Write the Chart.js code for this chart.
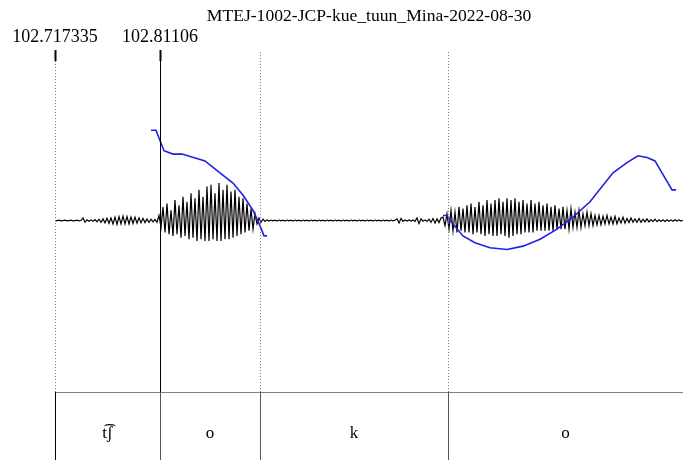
<!DOCTYPE html>
<html>
<head>
<meta charset="utf-8">
<script src="https://cdn.jsdelivr.net/npm/chart.js@4.4.1/dist/chart.umd.min.js"></script>
<style>
  html, body { margin: 0; padding: 0; background: #fff; overflow: hidden; }
  #wrap { position: relative; width: 683px; height: 460px; }
</style>
</head>
<body>
<div id="wrap"><canvas id="praat"></canvas></div>
<script>
// 显示窗口（秒）
const tStart = 102.717335;
const tEnd = 103.2779;
const cursorTime = 102.81106;
const topLabelTimes = [102.717335, 102.81106];
const topLabelTexts = ['102.717335', '102.81106'];

// 波形：每个采样点的振幅（满刻度百分比），采样间隔 waveStep
const waveStep = 0.00178524;
const wave = [
  0, 0, 0.2, -0.2, 0, 0.2, -0.2, 0, 0.2, -0.2, 0, 0.2, -0.2, 0,
  1.5, -1, 0.4, -0.4, 0.4, -0.4, 0.6,
  -0.7, 0.8, -1, 1, -1.3, 1.3, -1.6, 1.5, -2, 2, -2.3, 2.3, -2, 2.6, -2, 2.3,
  -2, 2, -1.7, 2, -1.6, 1.6, -1.3, 1.3, -1.2, 1, -1, 0.8, -0.7, 0.7, -1,
  3, -4, 8, -7, 10, -8, 6, -9, 12, -8,
  9, -10, 14, -9, 11, -11, 16, -10, 13, -12,
  18, -11, 14, -12, 20, -12, 21, -11, 16, -12,
  22, -12, 18, -11, 21, -11, 17, -10, 18, -9,
  14, -8, 13, -7, 10, -6, 7, -5, 4, -2,
  1.5, -1, 0.8, -0.5, 0.4, -0.3,
  0.3, -0.2, 0.2, -0.3, 0.3, -0.2, 0.2, -0.3, 0.3, -0.2,
  0.2, -0.3, 0.3, -0.2, 0.2, -0.3, 0.3, -0.2, 0.2, -0.3,
  0.3, -0.2, 0.2, -0.3, 0.3, -0.2, 0.2, -0.3, 0.3, -0.2,
  0.2, -0.3, 0.3, -0.2, 0.2, -0.3, 0.3, -0.2, 0.2, -0.3,
  0.3, -0.2, 0.2, -0.3, 0.3, -0.2, 0.2, -0.3, 0.3, -0.2,
  0.2, -0.3, 0.3, -0.2, 0.2, -0.3, 0.3, -0.2, 0.2, -0.3,
  0.3, -0.2, 0.2,
  1, -1.5, 1.2, -0.5, 0.3, -0.3, 0.3, -0.3, 0.3, -0.5,
  1.5, -1.8, 1, -0.4, 0.4, -0.5, 0.8, -1, 1.2, -1.5,
  1, -1.2, 1.5,
  2, -3, 4, -5, 6, -6, 5, -7, 8, -6,
  7, -7, 9, -7, 10, -8, 8, -7, 11, -8,
  9, -9, 12, -8, 10, -9, 12, -9, 13, -8,
  11, -9, 13, -10, 12, -9, 13, -8, 11, -8,
  12, -7, 10, -7, 12, -7, 10, -6, 11, -6,
  9, -6, 10, -6, 8, -6, 9, -5, 7, -5,
  8, -5, 6, -5, 7, -4, 5, -4, 6, -4,
  4, -3, 5, -3, 4, -3, 3, -2.5, 3, -2.5,
  2.5, -2, 3, -2, 2, -2, 2.5, -2, 1.5, -1.5,
  2, -1.5, 1.2, -1.2, 1.5, -1, 1, -1, 1.2, -1,
  0.8, -0.8, 1, -0.8, 0.6, -0.6, 0.8, -0.6, 0.5, -0.5,
  0.4, -0.5, 0.5, -0.4, 0.4, -0.4, 0.5, -0.3, 0.3, -0.3,
  0.2
];

// 基频曲线（Hz），null 为清音段断开
const pitchTimes = [
  102.8030, 102.8075, 102.8146, 102.8227, 102.8307, 102.8512, 102.8646,
  102.8762, 102.8851, 102.8941, 102.9003, 102.9039, 102.9066,
  102.9800,
  103.0637, 103.0672, 103.0726, 103.0815, 103.0922, 103.1056, 103.1208,
  103.1351, 103.1503, 103.1654, 103.1797, 103.1949, 103.2154, 103.2279,
  103.2377, 103.2458, 103.2529, 103.2601, 103.2681, 103.2717
];
const pitchHz = [
  253, 253, 241, 239, 239, 235, 228, 222, 215, 206, 197, 191, 191,
  null,
  203, 203, 198, 191, 187, 184, 183, 185, 189, 195, 202, 211, 228, 234,
  238, 237, 235, 227, 218, 218
];

// 标注层
const tierBounds = [102.717335, 102.81106, 102.9004, 103.0682, 103.2779];
const tierLabels = ['t\u0361\u0283', 'o', 'k', 'o'];

const serif = '"Liberation Serif", "Times New Roman", serif';

const waveData = wave.map((v, i) => ({ x: tStart + i * waveStep, y: v }));
const pitchData = pitchTimes.map((t, i) => ({ x: t, y: pitchHz[i] }));

// 顶部时间标记、边界虚线和标注层
const textGridPlugin = {
  id: 'textGrid',
  afterDraw(chart) {
    const { ctx, chartArea, scales } = chart;
    const xs = scales.x;
    const top = chartArea.top;
    const tierTop = chartArea.bottom + 1;
    const tierBottom = tierTop + 85;
    ctx.save();

    // 边界虚线
    ctx.strokeStyle = '#777';
    ctx.lineWidth = 1;
    ctx.setLineDash([1, 2]);
    tierBounds.slice(0, -1).forEach(t => {
      const x = Math.round(xs.getPixelForValue(t)) + 0.5;
      ctx.beginPath();
      ctx.moveTo(x, top + 2);
      ctx.lineTo(x, tierTop);
      ctx.stroke();
    });
    ctx.setLineDash([]);

    // 光标
    const cx = Math.round(xs.getPixelForValue(cursorTime)) + 0.5;
    ctx.strokeStyle = '#000';
    ctx.beginPath();
    ctx.moveTo(cx, top);
    ctx.lineTo(cx, tierBottom);
    ctx.stroke();

    // 顶部时间标签
    ctx.font = '18px ' + serif;
    ctx.fillStyle = '#000';
    ctx.textAlign = 'center';
    ctx.textBaseline = 'middle';
    topLabelTimes.forEach((t, i) => {
      const x = xs.getPixelForValue(t);
      ctx.fillText(topLabelTexts[i], x, top - 13);
      ctx.lineWidth = 2;
      ctx.beginPath();
      ctx.moveTo(Math.round(x) + 0.5, top);
      ctx.lineTo(Math.round(x) + 0.5, top + 11);
      ctx.stroke();
    });

    // 标注层
    ctx.lineWidth = 1;
    ctx.strokeStyle = '#808080';
    ctx.beginPath();
    ctx.moveTo(chartArea.left, tierTop + 0.5);
    ctx.lineTo(chartArea.right, tierTop + 0.5);
    ctx.stroke();
    tierBounds.forEach(t => {
      const x = Math.round(xs.getPixelForValue(t)) + 0.5;
      ctx.strokeStyle = t === tierBounds[0] ? '#000' : '#555';
      ctx.beginPath();
      ctx.moveTo(x, tierTop);
      ctx.lineTo(x, tierBottom);
      ctx.stroke();
    });
    ctx.font = '17px ' + serif;
    ctx.fillStyle = '#000';
    tierLabels.forEach((lab, i) => {
      const x = (xs.getPixelForValue(tierBounds[i]) + xs.getPixelForValue(tierBounds[i + 1])) / 2;
      ctx.fillText(lab, x, (tierTop + tierBottom) / 2 - 1);
    });
    ctx.restore();
  }
};

new Chart(document.getElementById('praat'), {
  type: 'line',
  data: {
    datasets: [
      {
        data: pitchData,
        yAxisID: 'f0',
        order: 0,
        borderColor: '#1f1fe6',
        borderWidth: 1.6,
        pointRadius: 0,
        tension: 0,
        spanGaps: false
      },
      {
        data: waveData,
        yAxisID: 'wave',
        order: 1,
        borderColor: '#000',
        borderWidth: 1.2,
        pointRadius: 0,
        tension: 0
      }
    ]
  },
  options: {
    responsive: true,
    maintainAspectRatio: false,
    animation: false,
    parsing: false,
    layout: { padding: { left: 55, right: 0, top: 0, bottom: 69 } },
    plugins: {
      legend: { display: false },
      tooltip: { enabled: false },
      title: {
        display: true,
        text: 'MTEJ-1002-JCP-kue_tuun_Mina-2022-08-30',
        color: '#000',
        font: { family: serif, size: 17.6, weight: 'normal' },
        padding: { top: 6, bottom: 23 }
      }
    },
    scales: {
      x: { type: 'linear', min: tStart, max: tEnd, display: false },
      wave: { type: 'linear', min: -100, max: 100, display: false },
      f0: { type: 'linear', min: 100, max: 300, display: false }
    }
  },
  plugins: [textGridPlugin]
});
</script>
</body>
</html>
